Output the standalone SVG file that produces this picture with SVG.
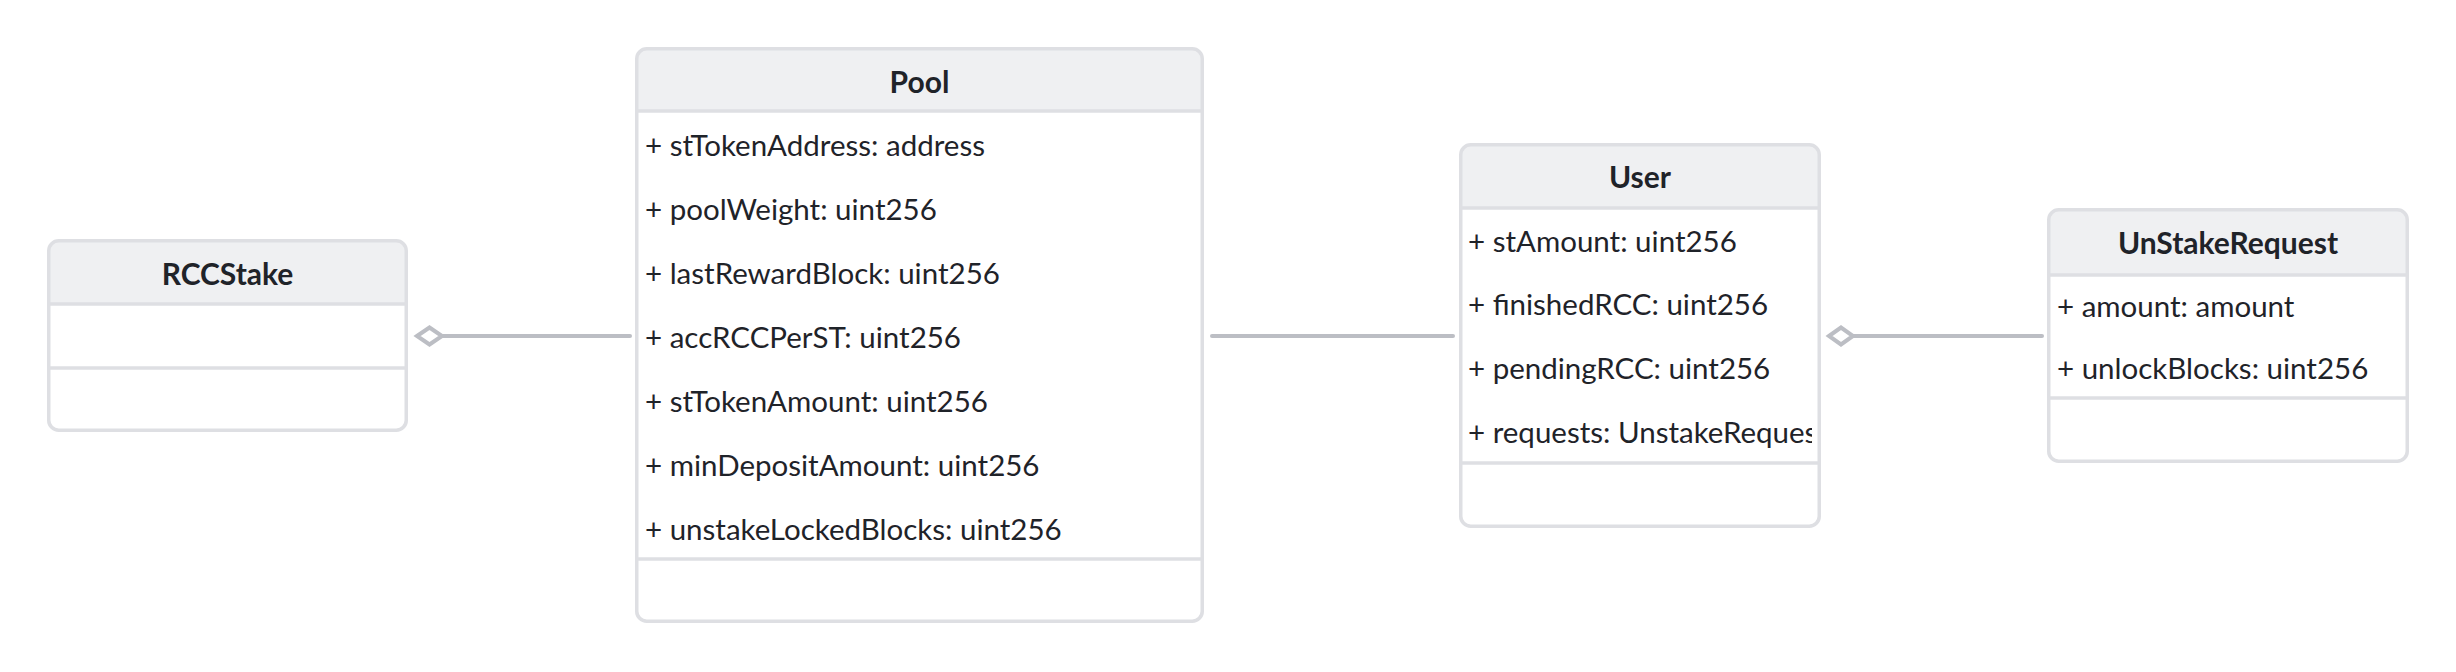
<svg xmlns="http://www.w3.org/2000/svg" width="2456" height="672" viewBox="0 0 2456 672">
<style>
.box{fill:#ffffff;stroke:none}
.frame{fill:none;stroke:#dedfe3;stroke-width:3.5}
.head{fill:#eff0f2;stroke:none}
.div{stroke:#dedfe3;stroke-width:3.5}
.title{font-family:Lato,"Liberation Sans",sans-serif;font-weight:700;font-size:30px;fill:#1f2329;text-anchor:middle}
.attr{font-family:Lato,"Liberation Sans",sans-serif;font-size:29.5px;fill:#1f2329}
.edge{stroke:#bcbec4;stroke-width:4;stroke-linecap:round;fill:none}
.dia{fill:#ffffff;stroke:#bcbec4;stroke-width:4;stroke-linejoin:miter}
</style>
<defs>
<clipPath id="clipUser"><rect x="1461" y="210" width="351" height="252"/></clipPath>
</defs>
<rect x="0" y="0" width="2456" height="672" fill="#ffffff"/>

<g id="connectors">
<line class="edge" x1="443" y1="336" x2="630" y2="336"/>
<path class="dia" d="M417,336 L429.5,327.5 L442,336 L429.5,344.5 Z"/>
<line class="edge" x1="1212" y1="336" x2="1453" y2="336"/>
<line class="edge" x1="1853" y1="336" x2="2042" y2="336"/>
<path class="dia" d="M1829,336 L1841,327.5 L1853,336 L1841,344.5 Z"/>
</g>

<g id="RCCStake">
<rect class="box" x="48.75" y="240.75" width="357.5" height="189.5" rx="10"/>
<path class="head" d="M48.75,304 V250.75 A10,10 0 0 1 58.75,240.75 H396.25 A10,10 0 0 1 406.25,250.75 V304 Z"/>
<line class="div" x1="48.75" y1="304" x2="406.25" y2="304"/>
<line class="div" x1="48.75" y1="368" x2="406.25" y2="368"/>
<rect class="frame" x="48.75" y="240.75" width="357.5" height="189.5" rx="10"/>
<text class="title" x="227.5" y="285">RCCStake</text>
</g>

<g id="Pool">
<rect class="box" x="636.75" y="48.75" width="565.5" height="572.5" rx="10"/>
<path class="head" d="M636.75,111 V58.75 A10,10 0 0 1 646.75,48.75 H1192.25 A10,10 0 0 1 1202.25,58.75 V111 Z"/>
<line class="div" x1="636.75" y1="111" x2="1202.25" y2="111"/>
<line class="div" x1="636.75" y1="559" x2="1202.25" y2="559"/>
<rect class="frame" x="636.75" y="48.75" width="565.5" height="572.5" rx="10"/>
<text class="title" x="919.5" y="93">Pool</text>
<text class="attr" x="645" y="156">+ stTokenAddress: address</text>
<text class="attr" x="645" y="220">+ poolWeight: uint256</text>
<text class="attr" x="645" y="284">+ lastRewardBlock: uint256</text>
<text class="attr" x="645" y="348">+ accRCCPerST: uint256</text>
<text class="attr" x="645" y="412">+ stTokenAmount: uint256</text>
<text class="attr" x="645" y="476">+ minDepositAmount: uint256</text>
<text class="attr" x="645" y="540">+ unstakeLockedBlocks: uint256</text>
</g>

<g id="User">
<rect class="box" x="1460.75" y="144.75" width="358.5" height="381.5" rx="10"/>
<path class="head" d="M1460.75,208 V154.75 A10,10 0 0 1 1470.75,144.75 H1809.25 A10,10 0 0 1 1819.25,154.75 V208 Z"/>
<line class="div" x1="1460.75" y1="208" x2="1819.25" y2="208"/>
<line class="div" x1="1460.75" y1="463" x2="1819.25" y2="463"/>
<rect class="frame" x="1460.75" y="144.75" width="358.5" height="381.5" rx="10"/>
<text class="title" x="1640" y="188">User</text>
<g clip-path="url(#clipUser)">
<text class="attr" x="1468" y="252">+ stAmount: uint256</text>
<text class="attr" x="1468" y="315">+ finishedRCC: uint256</text>
<text class="attr" x="1468" y="379">+ pendingRCC: uint256</text>
<text class="attr" x="1468" y="443">+ requests: UnstakeRequest[]</text>
</g>
</g>

<g id="UnStakeRequest">
<rect class="box" x="2048.75" y="209.75" width="358.5" height="251.5" rx="10"/>
<path class="head" d="M2048.75,275 V219.75 A10,10 0 0 1 2058.75,209.75 H2397.25 A10,10 0 0 1 2407.25,219.75 V275 Z"/>
<line class="div" x1="2048.75" y1="275" x2="2407.25" y2="275"/>
<line class="div" x1="2048.75" y1="398" x2="2407.25" y2="398"/>
<rect class="frame" x="2048.75" y="209.75" width="358.5" height="251.5" rx="10"/>
<text class="title" x="2228" y="254">UnStakeRequest</text>
<text class="attr" x="2057" y="317">+ amount: amount</text>
<text class="attr" x="2057" y="379">+ unlockBlocks: uint256</text>
</g>
</svg>
